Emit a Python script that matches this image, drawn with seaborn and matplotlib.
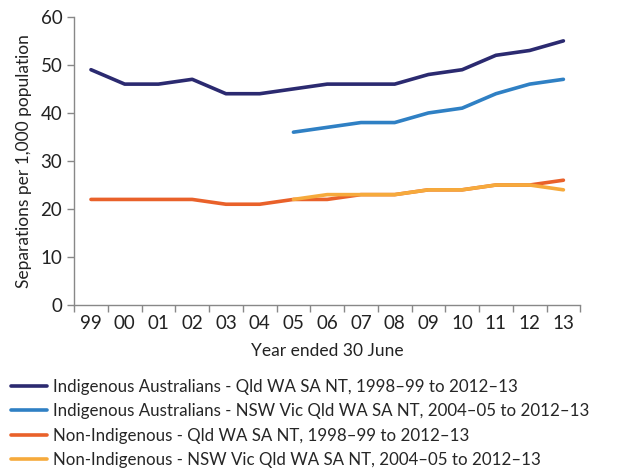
import matplotlib.pyplot as plt
import pandas as pd
import numpy as np
import seaborn as sns

years = ["99", "00", "01", "02", "03", "04", "05", "06", "07", "08", "09", "10", "11", "12", "13"]
nan = np.nan
indig_4 = [49, 46, 46, 47, 44, 44, 45, 46, 46, 46, 48, 49, 52, 53, 55]
indig_all = [nan, nan, nan, nan, nan, nan, 36, 37, 38, 38, 40, 41, 44, 46, 47]
nonind_4 = [22, 22, 22, 22, 21, 21, 22, 22, 23, 23, 24, 24, 25, 25, 26]
nonind_all = [nan, nan, nan, nan, nan, nan, 22, 23, 23, 23, 24, 24, 25, 25, 24]

names = [
    "Indigenous Australians - Qld WA SA NT, 1998\u201399 to 2012\u201313",
    "Indigenous Australians - NSW Vic Qld WA SA NT, 2004\u201305 to 2012\u201313",
    "Non-Indigenous - Qld WA SA NT, 1998\u201399 to 2012\u201313",
    "Non-Indigenous - NSW Vic Qld WA SA NT, 2004\u201305 to 2012\u201313",
]
colors = ["#2b2a70", "#2f80c4", "#e9612a", "#f6aa3c"]

rows = []
for name, vals in zip(names, [indig_4, indig_all, nonind_4, nonind_all]):
    for i, v in enumerate(vals):
        rows.append({"pos": i, "value": v, "series": name})
df = pd.DataFrame(rows)

sns.set_theme(style="white")
plt.rcParams["font.family"] = ["Lato", "DejaVu Sans"]

fig = plt.figure(figsize=(6.28, 4.68), dpi=100)
ax = fig.add_axes([0.118, 0.348, 0.806, 0.616])
sns.lineplot(data=df, x="pos", y="value", hue="series", hue_order=names,
             palette=colors, linewidth=2.6, ax=ax, legend=True)

ax.set_xlim(-0.5, 14.5)
ax.set_ylim(0, 60)
ax.set_yticks(range(0, 61, 10))
ax.set_xticks(range(15))
ax.set_xticklabels(years)
ax.set_xticks(np.arange(-0.5, 15, 1), minor=True)
ax.tick_params(axis="x", which="major", length=0, labelsize=13.5, colors="#222222", pad=7)
ax.tick_params(axis="x", which="minor", length=5, width=1, color="#888888", bottom=True)
ax.tick_params(axis="y", length=5, width=1, color="#888888", left=True, labelsize=13.5, labelcolor="#222222")
for s in ["top", "right"]:
    ax.spines[s].set_visible(False)
for s in ["left", "bottom"]:
    ax.spines[s].set_color("#888888")
    ax.spines[s].set_linewidth(1)

ax.set_xlabel("Year ended 30 June", fontsize=12.5, color="#222222", labelpad=8)
ax.set_ylabel("Separations per 1,000 population", fontsize=12.5, color="#222222", labelpad=6)

handles, labels = ax.get_legend_handles_labels()
ax.legend(handles, labels, loc="upper left", bbox_to_anchor=(-0.138, -0.232),
          frameon=False, fontsize=12.2, handlelength=2.1, handletextpad=0.4,
          labelspacing=0.5, borderaxespad=0)

fig.savefig("out.png", dpi=100)
